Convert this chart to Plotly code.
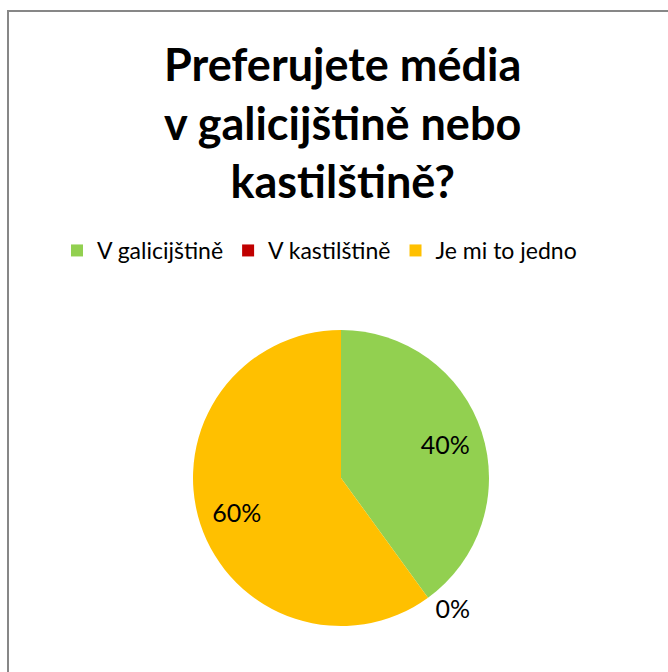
import plotly.graph_objects as go

labels = ["V galicijštině", "V kastilštině", "Je mi to jedno"]
values = [40, 0, 60]
colors = ["#92D050", "#C00000", "#FFC000"]
title_text = "<b>Preferujete média<br>v galicijštině nebo<br>kastilštině?</b>"

W, H = 668, 672
cx, cy, r = 341, 478, 148
domain = dict(x=[(cx - r) / W, (cx + r) / W], y=[1 - (cy + r) / H, 1 - (cy - r) / H])
label_font = dict(family="Lato", size=25, color="#000000")

fig = go.Figure()
# coloured slices
fig.add_trace(go.Pie(
    labels=labels, values=values, sort=False, direction="clockwise", rotation=0,
    marker=dict(colors=colors, line=dict(width=0)),
    textinfo="none", showlegend=True, hoverinfo="label+percent", domain=domain,
))
# percentage labels (transparent ring so inside labels sit further out, like the original)
fig.add_trace(go.Pie(
    labels=labels, values=values, sort=False, direction="clockwise", rotation=0,
    hole=0.48,
    marker=dict(colors=["rgba(0,0,0,0)"] * 3, line=dict(width=0)),
    textinfo="percent", texttemplate="%{percent:.0%}",
    textposition=["inside", "outside", "inside"],
    insidetextorientation="horizontal",
    textfont=label_font, insidetextfont=label_font, outsidetextfont=label_font,
    showlegend=False, hoverinfo="skip", domain=domain,
))

fig.update_layout(
    width=W, height=H,
    margin=dict(l=0, r=0, t=0, b=0),
    paper_bgcolor="white",
    plot_bgcolor="white",
    annotations=[dict(text=title_text, xref="paper", yref="paper", x=342 / W, y=1 - 122 / H,
                      xanchor="center", yanchor="middle", showarrow=False,
                      font=dict(family="Lato", size=45, color="#000000"))],
    legend=dict(orientation="h", x=57 / W, xanchor="left", y=1 - 229 / H, yanchor="top",
                font=dict(family="Lato", size=23, color="#000000"), traceorder="normal"),
    shapes=[dict(type="rect", xref="paper", yref="paper",
                 x0=8 / W, x1=1.05, y0=-0.05, y1=1 - 11 / H,
                 line=dict(color="#878787", width=2))],
)

fig.write_html("out.html")
